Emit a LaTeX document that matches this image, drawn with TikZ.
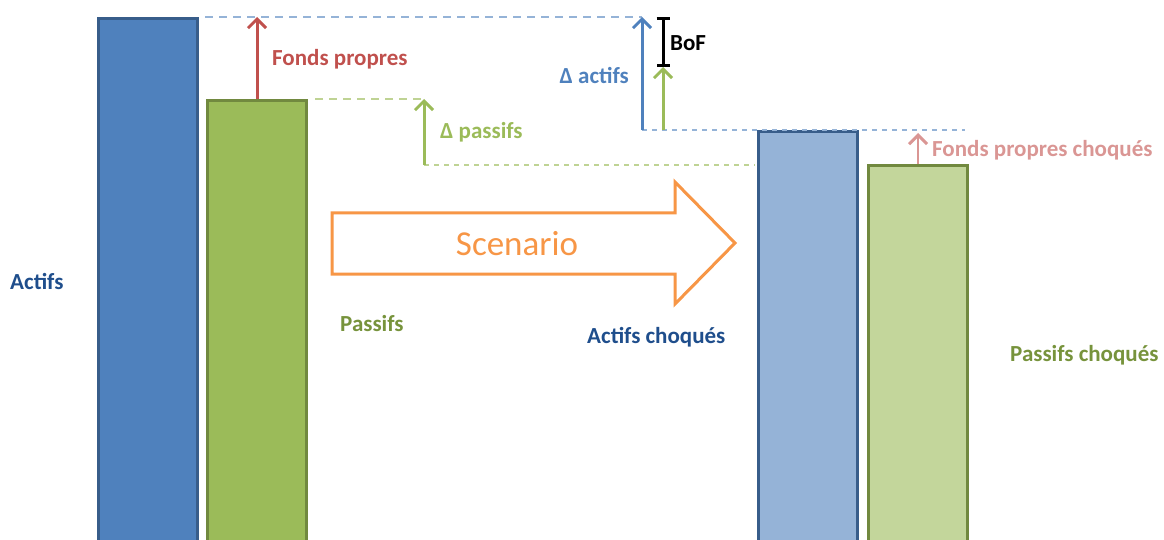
\documentclass[tikz,border=0pt]{standalone}
\usepackage{fontspec}
\setmainfont{Carlito}
\usetikzlibrary{arrows.meta}
\definecolor{actfill}{HTML}{4F81BD}
\definecolor{actedge}{HTML}{385D8A}
\definecolor{pasfill}{HTML}{9BBB59}
\definecolor{pasedge}{HTML}{71893F}
\definecolor{actshock}{HTML}{95B3D7}
\definecolor{passhock}{HTML}{C3D69B}
\definecolor{fpred}{HTML}{C0504D}
\definecolor{fppink}{HTML}{DA9694}
\definecolor{scen}{HTML}{F79646}
\definecolor{navy}{HTML}{1F4E8C}
\definecolor{olive}{HTML}{77933C}
\tikzset{
  bar/.style={draw, line width=3pt, anchor=north west, minimum width=99pt,
    minimum height=540pt, inner sep=0pt},
  lab/.style={font=\fontsize{23}{23}\selectfont\bfseries, inner sep=0pt},
  uparrow/.style={line width=3pt, -{Straight Barb[length=9pt, width=18pt, line width=3pt]}},
  guide/.style={line width=1.6pt, dash pattern=on 8pt off 6pt},
  guidefine/.style={line width=1.6pt, dash pattern=on 5pt off 5pt},
}
\begin{document}
\begin{tikzpicture}[x=1pt, y=-1pt]
\useasboundingbox (0,0) rectangle (1164,540);
\clip (0,0) rectangle (1164,540);

% balance sheet before the shock
\node[bar, draw=actedge, fill=actfill] (act) at (97,17) {};
\node[bar, draw=pasedge, fill=pasfill] (pas) at (206,99) {};
% balance sheet after the shock
\node[bar, draw=actedge, fill=actshock] (actc) at (757,130) {};
\node[bar, draw=pasedge, fill=passhock] (pasc) at (867,164) {};

% reference levels
\coordinate (topA) at (642,17);
\coordinate (topP) at (424,99);
\coordinate (lowP) at (424,165);
\coordinate (lowA) at (642,130);
\coordinate (bofLow) at (663,67);
\coordinate (bofTop) at (663,17);
\coordinate (bofBase) at (663,130);

% dashed guide lines
\draw[guide, actshock] (205,17) -- (topA);
\draw[guide, passhock!90!pasfill] (315,99) -- (topP);
\draw[guidefine, passhock!90!pasfill] (lowP) -- (755,165);
\draw[guidefine, actshock] (lowA) -- (965,130);

% own funds
\draw[uparrow, fpred] (pas.north) -- (pas.north |- topA);
\node[lab, fpred, anchor=west] (fp) at (272,59) {Fonds propres};

% change in liabilities
\draw[uparrow, pasfill] (lowP) -- (topP);
\node[lab, pasfill, anchor=west] (dp) at (440,132) {Δ passifs};

% change in assets
\draw[uparrow, actfill] (lowA) -- (topA);
\node[lab, actfill, anchor=east] (da) at (629,75) {Δ actifs};

% basic own funds
\draw[uparrow, pasfill] (bofBase) -- (bofLow);
\draw[line width=3pt, {Bar[width=13pt, line width=3pt]}-{Bar[width=13pt, line width=3pt]}] (bofLow) -- (bofTop);
\node[lab, black, anchor=west] (bof) at (670,43) {BoF};

% shocked own funds
\draw[uparrow, fppink, line width=2.6pt] (pasc.north) -- ++(0,-31);
\node[lab, fppink, anchor=west] (fpc) at (932,150) {Fonds propres choqués};

% scenario arrow
\draw[scen, line width=3pt, fill=white, line join=miter]
  (332,213) -- (675,213) -- (675,182) -- (735,243) -- (675,304) -- (675,274)
  -- (332,274) -- cycle;
\node[scen, font=\fontsize{35}{35}\selectfont, inner sep=0pt] (scn) at (517,244) {Scenario};

% side labels
\node[lab, navy, anchor=west] (la) at (10,281) {Actifs};
\node[lab, olive, anchor=west] (lp) at (340,324) {Passifs};
\node[lab, navy, anchor=west] (lac) at (587,337) {Actifs choqués};
\node[lab, olive, anchor=west] (lpc) at (1010,355) {Passifs choqués};
\end{tikzpicture}
\end{document}
